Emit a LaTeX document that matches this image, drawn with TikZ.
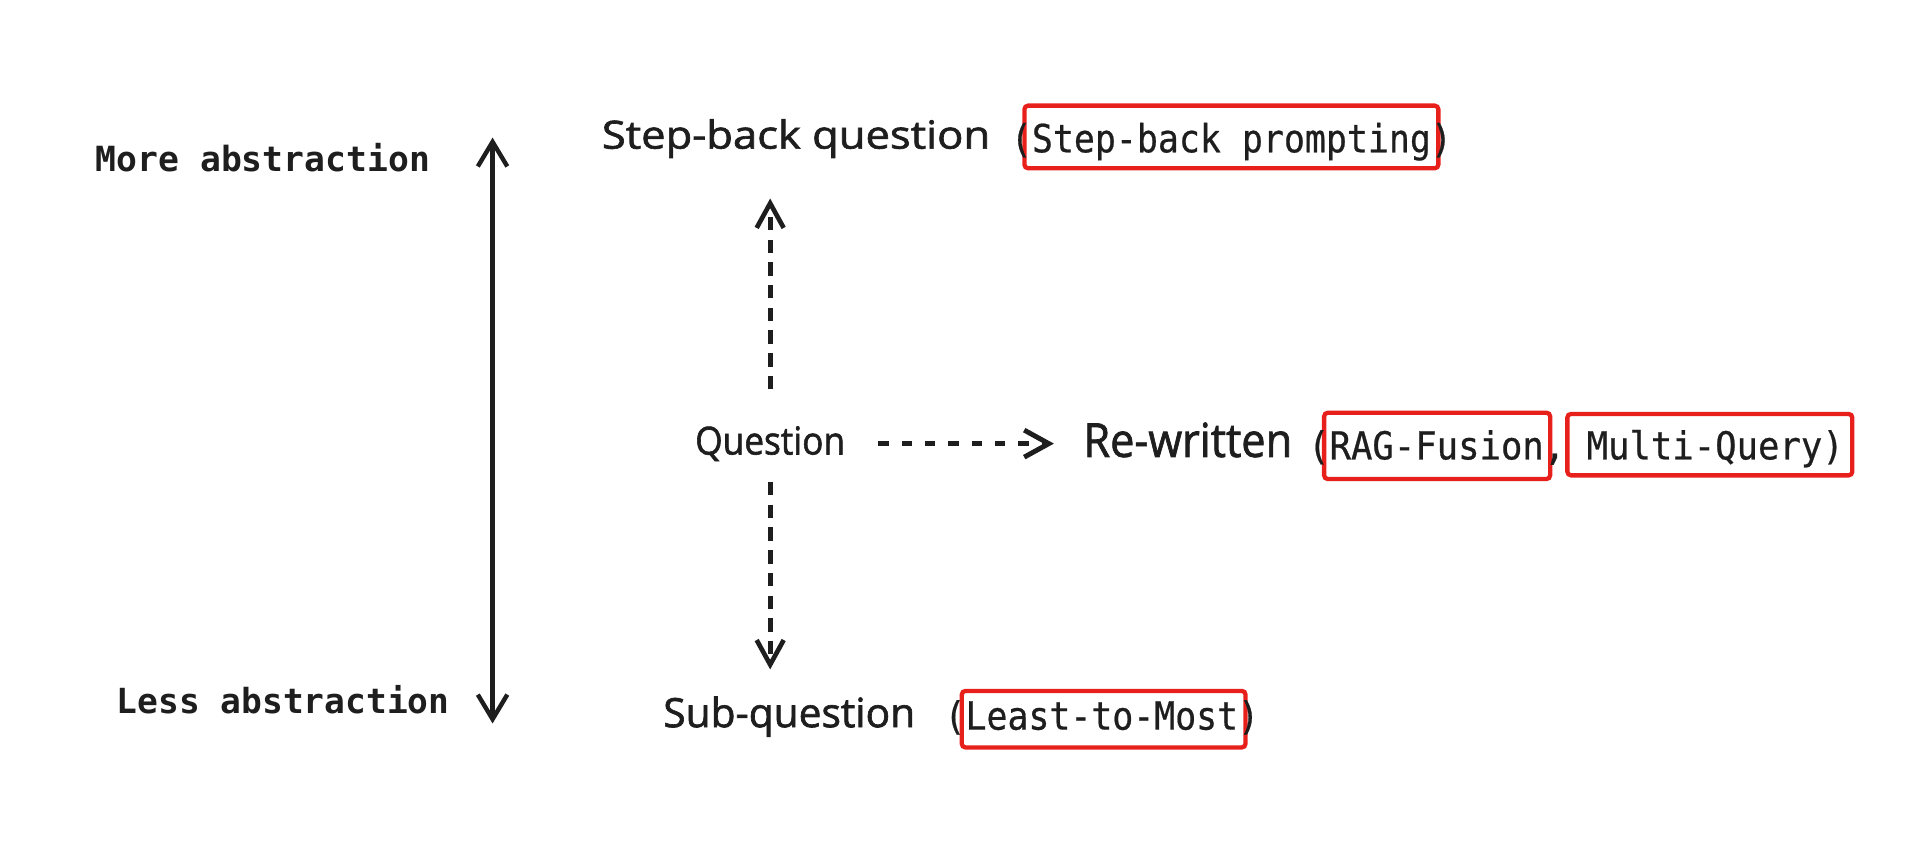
\documentclass[tikz,border=0pt]{standalone}
\usepackage{fontspec}
\usepackage{graphicx}
\setmainfont{DejaVu Sans}
\newfontfamily\handfont{Open Sans}[FakeBold=1.6]
\newfontfamily\monofont{DejaVu Sans Mono}[FakeBold=0.6]
\newfontfamily\monoboldfont{DejaVu Sans Mono}
\usetikzlibrary{arrows.meta}
\definecolor{ink}{RGB}{30,30,30}
\definecolor{boxred}{RGB}{232,32,28}
\newcommand{\fitw}[3]{\resizebox{#1pt}{#2pt}{#3}}
\begin{document}
\begin{tikzpicture}[x=1pt,y=1pt,
  lbl/.style={inner sep=0pt, outer sep=0pt, anchor=base west, text=ink},
  redbox/.style={draw=boxred, line width=3.5pt, rounded corners=3pt, inner sep=0pt, outer sep=0pt},
  solidarrow/.style={draw=ink, line width=3.6pt,
    {Straight Barb[length=20pt,width=24pt,line width=3.6pt]}-{Straight Barb[length=20pt,width=24pt,line width=3.6pt]}},
  vdash/.style={draw=ink, line width=3.8pt, dash pattern=on 11pt off 7.5pt,
    -{Straight Barb[length=20pt,width=22pt,line width=3.8pt]}},
  hdash/.style={draw=ink, line width=4pt, dash pattern=on 8.5pt off 10.5pt,
    -{Straight Barb[length=20pt,width=22pt,line width=4pt]}}
]
\useasboundingbox (0,0) rectangle (1568,-687);

% left scale
\node[lbl] (more) at (78,-140) {\resizebox{272pt}{!}{\monoboldfont\bfseries More abstraction}};
\node[lbl] (less) at (95,-581) {\resizebox{271pt}{!}{\monoboldfont\bfseries Less abstraction}};
\coordinate (axtop) at (401,-112);
\coordinate (axbot) at (401,-589);
\draw[solidarrow] (axbot) -- (axtop);

% red boxes
\node[redbox, minimum width=337pt, minimum height=51pt] (b1) at (1002.5,-111.5) {};
\node[redbox, minimum width=184pt, minimum height=54pt] (b2) at (1170,-363) {};
\node[redbox, minimum width=232pt, minimum height=50pt] (b3) at (1392,-362) {};
\node[redbox, minimum width=231pt, minimum height=46pt] (b4) at (898.5,-585.5) {};

% texts
\node[lbl] (sbq) at (490,-121) {\fitw{316}{24}{\handfont Step-back question}};
\node[lbl] (sbp) at (823,-124) {\fitw{359}{24}{\monofont (Step-back prompting)}};
\node[lbl] (q) at (566,-370) {\fitw{122}{23}{\handfont Question}};
\node[lbl] (rw) at (882,-372) {\fitw{170}{28}{\handfont Re-written}};
\node[lbl] (rwm) at (1065,-374) {\fitw{436}{24}{\monofont (RAG-Fusion, Multi-Query)}};
\node[lbl] (sq) at (540,-592) {\fitw{205}{25}{\handfont Sub-question}};
\node[lbl] (ltm) at (769,-594) {\fitw{256}{24}{\monofont (Least-to-Most)}};

% connectors
\draw[vdash, shorten <=30pt, shorten >=33pt] (q.north) -- (q.north |- sbq.south);
\draw[vdash, shorten <=17pt, shorten >=22pt] (q.south) -- (q.south |- sq.north);
\draw[hdash, shorten <=27pt, shorten >=24pt] (q.east) -- (rw.west |- q.east);
\end{tikzpicture}
\end{document}
